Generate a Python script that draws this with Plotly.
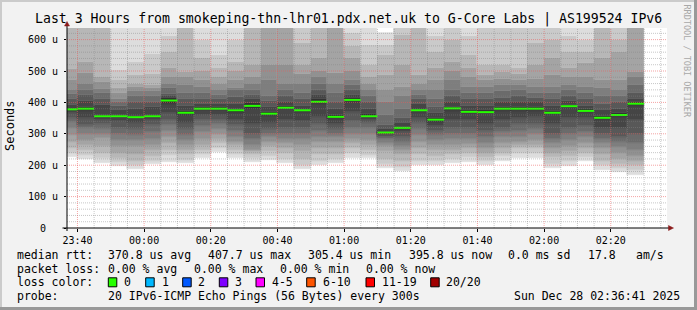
import plotly.graph_objects as go
from datetime import datetime, timedelta

# ---------------- data ----------------
slot_starts = [
    "2025-12-27 23:35", "2025-12-27 23:40", "2025-12-27 23:45", "2025-12-27 23:50", "2025-12-27 23:55",
    "2025-12-28 00:00", "2025-12-28 00:05", "2025-12-28 00:10", "2025-12-28 00:15", "2025-12-28 00:20",
    "2025-12-28 00:25", "2025-12-28 00:30", "2025-12-28 00:35", "2025-12-28 00:40", "2025-12-28 00:45",
    "2025-12-28 00:50", "2025-12-28 00:55", "2025-12-28 01:00", "2025-12-28 01:05", "2025-12-28 01:10",
    "2025-12-28 01:15", "2025-12-28 01:20", "2025-12-28 01:25", "2025-12-28 01:30", "2025-12-28 01:35",
    "2025-12-28 01:40", "2025-12-28 01:45", "2025-12-28 01:50", "2025-12-28 01:55", "2025-12-28 02:00",
    "2025-12-28 02:05", "2025-12-28 02:10", "2025-12-28 02:15", "2025-12-28 02:20", "2025-12-28 02:25",
]

# median rtt per 5-minute slot (microseconds)
median_us = [378, 380, 356, 356, 353, 356, 406, 367, 380, 380, 375, 389, 364, 383, 375, 402, 354, 408,
             356, 304, 319, 375, 345, 381, 370, 369, 380, 380, 380, 367, 388, 373, 351, 360, 396]

# 20 sorted ping times per slot (microseconds), read from the smoke
pings_us = [
    [227, 240, 255, 275, 296, 320, 338, 350, 365, 376, 380, 391, 410, 428, 440, 470, 508, 660, 700, 760],
    [219, 232, 250, 265, 280, 300, 318, 328, 350, 372, 385, 405, 423, 440, 460, 495, 529, 645, 680, 720],
    [206, 222, 240, 260, 286, 300, 315, 330, 345, 354, 360, 391, 410, 430, 444, 465, 481, 650, 690, 740],
    [196, 210, 222, 240, 262, 280, 300, 320, 340, 353, 360, 375, 390, 400, 410, 430, 446, 471, 502, 680],
    [189, 200, 215, 235, 262, 280, 296, 315, 335, 350, 357, 380, 400, 420, 435, 448, 460, 487, 530, 690],
    [203, 215, 230, 250, 264, 285, 305, 328, 345, 354, 360, 385, 400, 420, 435, 445, 455, 490, 555, 700],
    [211, 232, 250, 270, 290, 310, 328, 345, 365, 395, 415, 420, 428, 445, 460, 480, 510, 560, 610, 680],
    [206, 218, 235, 250, 264, 280, 296, 315, 335, 360, 374, 390, 410, 430, 455, 480, 497, 650, 690, 730],
    [222, 235, 250, 265, 285, 305, 325, 345, 360, 375, 384, 395, 410, 430, 450, 470, 500, 540, 600, 690],
    [243, 255, 270, 285, 300, 315, 330, 345, 360, 375, 384, 395, 410, 425, 440, 460, 480, 510, 550, 660],
    [222, 235, 250, 265, 275, 290, 310, 328, 345, 365, 380, 395, 418, 440, 445, 470, 500, 530, 600, 680],
    [211, 222, 235, 245, 250, 265, 285, 300, 330, 380, 398, 410, 423, 440, 460, 480, 520, 650, 690, 740],
    [217, 228, 245, 260, 275, 290, 300, 315, 335, 358, 368, 385, 405, 420, 470, 518, 650, 680, 700, 750],
    [206, 220, 240, 255, 270, 285, 300, 320, 345, 378, 390, 400, 420, 440, 460, 518, 650, 680, 720, 770],
    [188, 200, 220, 245, 265, 285, 300, 320, 340, 368, 377, 390, 410, 430, 460, 490, 520, 590, 660, 720],
    [201, 215, 235, 255, 275, 290, 310, 330, 355, 395, 410, 425, 440, 460, 480, 500, 540, 650, 690, 740],
    [206, 220, 235, 255, 275, 290, 300, 315, 330, 348, 360, 380, 400, 430, 460, 495, 650, 680, 720, 770],
    [222, 240, 255, 270, 285, 300, 320, 340, 370, 400, 415, 425, 440, 455, 470, 500, 540, 580, 620, 700],
    [222, 232, 250, 264, 280, 300, 320, 335, 345, 352, 362, 380, 400, 420, 440, 460, 480, 518, 582, 680],
    [190, 205, 220, 245, 262, 272, 282, 290, 297, 302, 306, 315, 328, 360, 400, 440, 487, 550, 582, 620],
    [180, 195, 215, 235, 250, 262, 275, 290, 305, 315, 323, 335, 350, 380, 420, 450, 520, 614, 650, 700],
    [200, 215, 235, 255, 275, 295, 315, 335, 350, 368, 377, 395, 410, 425, 440, 460, 487, 650, 690, 740],
    [201, 215, 230, 250, 265, 280, 295, 310, 325, 338, 350, 365, 385, 410, 440, 470, 510, 560, 610, 680],
    [206, 220, 235, 250, 265, 285, 300, 320, 345, 374, 386, 400, 420, 440, 470, 500, 530, 600, 650, 700],
    [210, 225, 240, 255, 268, 285, 300, 320, 345, 366, 375, 390, 410, 430, 450, 480, 510, 550, 610, 680],
    [201, 215, 225, 240, 255, 270, 290, 310, 330, 365, 375, 390, 410, 430, 450, 470, 487, 520, 650, 700],
    [214, 228, 240, 255, 270, 290, 305, 320, 345, 374, 386, 400, 415, 435, 455, 475, 497, 520, 660, 700],
    [222, 240, 255, 265, 275, 290, 310, 330, 350, 374, 386, 400, 420, 440, 455, 470, 490, 510, 650, 700],
    [222, 240, 255, 265, 280, 300, 315, 330, 355, 374, 386, 400, 415, 430, 450, 475, 520, 590, 650, 700],
    [190, 205, 225, 240, 255, 270, 285, 300, 330, 362, 372, 390, 410, 430, 450, 487, 540, 600, 660, 700],
    [198, 215, 230, 245, 260, 280, 300, 320, 350, 383, 393, 405, 420, 440, 455, 480, 510, 560, 610, 680],
    [212, 225, 240, 255, 270, 290, 305, 325, 350, 368, 378, 390, 410, 430, 450, 480, 525, 560, 600, 680],
    [185, 200, 215, 235, 255, 270, 285, 300, 320, 345, 357, 375, 395, 420, 445, 470, 540, 650, 690, 740],
    [178, 192, 205, 220, 240, 258, 275, 290, 320, 355, 365, 380, 400, 420, 440, 470, 560, 600, 660, 700],
    [169, 185, 200, 215, 230, 250, 270, 300, 345, 390, 400, 410, 430, 455, 480, 497, 650, 680, 720, 770],
]

y_tick_vals = [0, 100, 200, 300, 400, 500, 600]
y_tick_text = ["0\u00a0\u00a0", "100 u", "200 u", "300 u", "400 u", "500 u", "600 u"]

loss_labels = ["0", "1", "2", "3", "4-5", "6-10", "11-19", "20/20"]
loss_colors = ["#26ff00", "#00b8ff", "#0059ff", "#7e00ff", "#ff00ff", "#ff5500", "#ff0000", "#a10000"]

title_text = "Last 3 Hours from smokeping-thn-lhr01.pdx.net.uk to G-Core Labs | AS199524 IPv6"

# ---------------- geometry helpers ----------------
W, H = 697, 310
ML, MR, MT, MB = 67, 30, 28, 82
PW, PH = W - ML - MR, H - MT - MB
FONT = "DejaVu Sans Mono"


def px(x):
    return (x - ML) / PW


def py(y):
    return (H - MB - y) / PH


starts = [datetime.strptime(s, "%Y-%m-%d %H:%M") for s in slot_starts]
step = timedelta(seconds=300)
centers = [s + step / 2 for s in starts]

fig = go.Figure()

# smoke: band b spans ping b .. ping b+1
n = len(pings_us[0])
half = n // 2
for b in range(n - 1):
    i = b + 1
    level = i if i <= half else n - i
    g = int(190 / half * (half - level)) + 50
    col = f"rgb({g},{g},{g})"
    fig.add_trace(go.Bar(
        x=centers,
        base=[p[b] for p in pings_us],
        y=[p[b + 1] - p[b] for p in pings_us],
        width=300000,
        marker=dict(color=col, line=dict(color=col, width=0.6)),
        hoverinfo="skip", showlegend=False,
    ))

# median line segments
mx, my = [], []
for s, m in zip(starts, median_us):
    mx += [s, s + step, None]
    my += [m, m, None]
fig.add_trace(go.Scatter(x=mx, y=my, mode="lines", line=dict(color="#26ff00", width=2),
                         hoverinfo="skip", showlegend=False))

x0 = datetime(2025, 12, 27, 23, 36, 52)
x1 = x0 + timedelta(hours=3)

shapes = []
# horizontal grid (every 20 u; major every 100 u)
for v in range(20, 637, 20):
    major = v % 100 == 0
    shapes.append(dict(type="line", xref="paper", yref="y", x0=0, x1=1, y0=v, y1=v, layer="above",
                       line=dict(color="rgba(235,90,90,0.55)" if major else "rgba(130,130,130,0.45)",
                                 width=1, dash="1px,1px")))
# vertical grid (every 5 min; major every 20 min)
t = datetime(2025, 12, 27, 23, 40)
while t < x1:
    major = t.minute % 20 == 0
    shapes.append(dict(type="line", xref="x", yref="paper", x0=t, x1=t, y0=0, y1=1, layer="above",
                       line=dict(color="rgba(235,90,90,0.55)" if major else "rgba(130,130,130,0.45)",
                                 width=1, dash="1px,1px")))
    t += step

# axes with arrows
shapes.append(dict(type="line", xref="paper", yref="paper", x0=px(62.5), x1=px(669), y0=py(228), y1=py(228),
                   line=dict(color="black", width=1), layer="above"))
shapes.append(dict(type="line", xref="paper", yref="paper", x0=px(67), x1=px(67), y0=py(231), y1=py(25),
                   line=dict(color="black", width=1), layer="above"))
ARROW = "#8b1a1a"
shapes.append(dict(type="path", xref="paper", yref="paper",
                   path=f"M {px(668.5)} {py(225.5)} L {px(673.5)} {py(228)} L {px(668.5)} {py(230.5)} Z",
                   fillcolor=ARROW, line=dict(color=ARROW, width=0.5), layer="above"))
shapes.append(dict(type="path", xref="paper", yref="paper",
                   path=f"M {px(64.5)} {py(26)} L {px(67)} {py(21.5)} L {px(69.5)} {py(26)} Z",
                   fillcolor=ARROW, line=dict(color=ARROW, width=0.5), layer="above"))

# frame shading
shapes += [
    dict(type="rect", xref="paper", yref="paper", x0=px(0), x1=px(W), y0=py(0), y1=py(2),
         fillcolor="#cbcbcb", line=dict(width=0)),
    dict(type="rect", xref="paper", yref="paper", x0=px(0), x1=px(2), y0=py(0), y1=py(H),
         fillcolor="#cbcbcb", line=dict(width=0)),
    dict(type="rect", xref="paper", yref="paper", x0=px(0), x1=px(W), y0=py(H - 3), y1=py(H),
         fillcolor="#999999", line=dict(width=0)),
    dict(type="rect", xref="paper", yref="paper", x0=px(W - 3), x1=px(W), y0=py(0), y1=py(H),
         fillcolor="#999999", line=dict(width=0)),
]

annotations = []


def txt(x, y, s, size=11.5, anchor="left", color="black", angle=0):
    annotations.append(dict(xref="paper", yref="paper", x=px(x), y=py(y), text=s, showarrow=False,
                            xanchor=anchor, yanchor="middle", borderpad=0, textangle=angle,
                            font=dict(family=FONT, size=size, color=color)))


txt(348, 19, title_text, size=13.2, anchor="center")
txt(10, 126, "Seconds", size=12, anchor="center", angle=-90)
txt(686.5, 61, "RRDTOOL / TOBI OETIKER", size=8.5, anchor="center", color="#a8a8a8", angle=90)

# legend rows
r1, r2, r3, r4 = 254.5, 268.5, 282.3, 296
txt(16, r1, "median rtt:")
txt(107.3, r1, "370.8 us avg")
txt(207.3, r1, "407.7 us max")
txt(306.7, r1, "305.4 us min")
txt(407.7, r1, "395.8 us now")
txt(506.7, r1, "0.0 ms sd")
txt(586.7, r1, "17.8")
txt(635, r1, "am/s")

txt(16, r2, "packet loss:")
txt(107.3, r2, "0.00 % avg")
txt(193.3, r2, "0.00 % max")
txt(279.3, r2, "0.00 % min")
txt(365, r2, "0.00 % now")

txt(16, r3, "loss color:")
box_x = [108.3, 145.7, 182.7, 219.3, 256, 306.7, 366, 430.7]
lab_x = [123.3, 160.7, 197.3, 234, 270.7, 321.7, 380.7, 445.3]
for bx, lx, lab, c in zip(box_x, lab_x, loss_labels, loss_colors):
    shapes.append(dict(type="rect", xref="paper", yref="paper", x0=px(bx), x1=px(bx + 8.5),
                       y0=py(r3 - 4.5), y1=py(r3 + 4.5), fillcolor=c, line=dict(color="black", width=1)))
    txt(lx, r3, lab)

txt(16, r4, "probe:")
txt(107.3, r4, "20 IPv6-ICMP Echo Pings (56 Bytes) every 300s")
txt(513.3, r4, "Sun Dec 28 02:36:41 2025")

fig.update_layout(
    width=W, height=H,
    margin=dict(l=ML, r=MR, t=MT, b=MB, pad=0, autoexpand=False),
    paper_bgcolor="#f2f2f2", plot_bgcolor="white",
    barmode="overlay", bargap=0,
    shapes=shapes, annotations=annotations,
    xaxis=dict(range=[x0, x1], type="date", showgrid=False, zeroline=False, showline=False,
               ticks="outside", ticklen=3, tickcolor="black", tickformat="%H:%M",
               tick0="2025-12-27 23:40:00", dtick=1200000, automargin=False,
               tickfont=dict(family=FONT, size=10, color="black")),
    yaxis=dict(range=[0, 637], showgrid=False, zeroline=False, showline=False,
               tickvals=y_tick_vals, ticktext=y_tick_text, ticks="outside", ticklen=2,
               tickcolor="black", automargin=False, ticklabelstandoff=4,
               tickfont=dict(family=FONT, size=10, color="black")),
)

fig.write_html("out.html")
